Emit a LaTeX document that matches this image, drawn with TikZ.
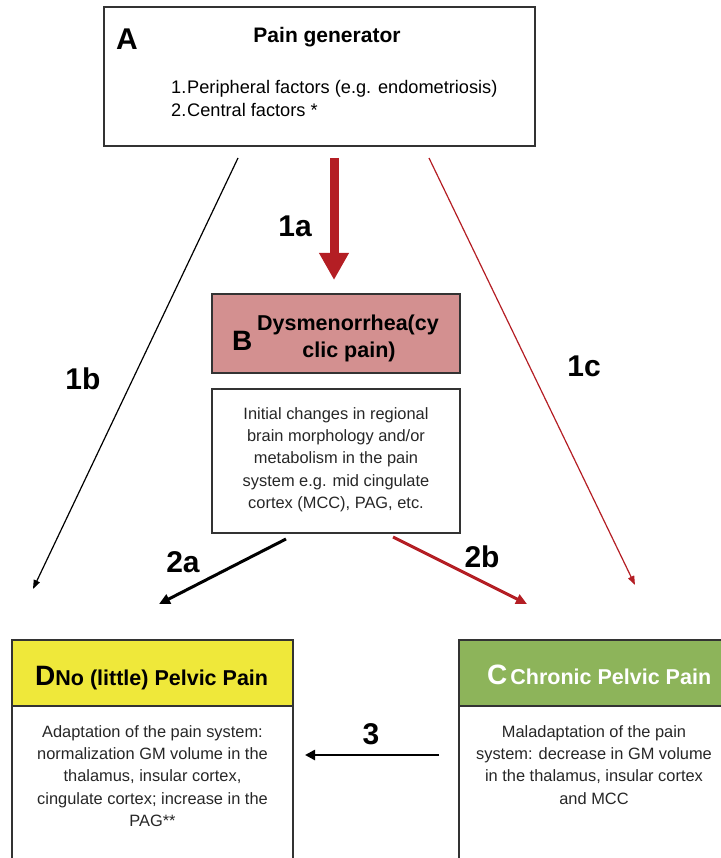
\documentclass[tikz,border=0pt]{standalone}
\usepackage{fontspec}
\setmainfont{Liberation Sans}
\usetikzlibrary{arrows.meta}
\definecolor{arrred}{HTML}{B41E24}
\definecolor{bfill}{HTML}{D39090}
\definecolor{dyellow}{HTML}{EFE83A}
\definecolor{cgreen}{HTML}{8DB45A}
\definecolor{edge}{HTML}{333333}
\newcommand{\fsz}[1]{\fontsize{#1}{#1}\selectfont}
\begin{document}
\begin{tikzpicture}[x=1pt,y=-1pt,
  box/.style={draw=edge, line width=1.4pt, inner sep=0pt, outer sep=0pt, anchor=north west},
  lbl/.style={font=\fsz{30}\bfseries, inner sep=0pt},
  bodytxt/.style={font=\fontsize{16.4}{22.4}\selectfont, align=center, inner sep=0pt, anchor=north, text=black!85},
  thinarrow/.style={line width=1.2pt, -{Triangle[length=9pt,width=6.5pt]}},
  medarrow/.style={line width=3pt, -{Triangle[length=11pt,width=10pt]}}]
\useasboundingbox (0,0) rectangle (720,858);

% Box A
\node[box, minimum width=431pt, minimum height=139pt] (A) at (104,7) {};
\node[font=\fsz{30}\bfseries, inner sep=0pt, anchor=base west] (Alet) at (116,50) {A};
\node[font=\fsz{21}\bfseries, inner sep=0pt, anchor=base] (Atitle) at (327,43) {Pain generator};
\node[font=\fsz{18.2}, inner sep=0pt, anchor=base west] (Aone) at (171,94) {\makebox[16pt][l]{1.}Peripheral factors (e.g. endometriosis)};
\node[font=\fsz{18.2}, inner sep=0pt, anchor=base west] (Atwo) at (171,117) {\makebox[16pt][l]{2.}Central factors *};

% Box B
\node[box, fill=bfill, minimum width=248pt, minimum height=79pt] (Bhead) at (212,294) {};
\node[font=\fsz{28}\bfseries, inner sep=0pt, anchor=base west] (Blet) at (232,350) {B};
\node[font=\fsz{21.5}\bfseries, inner sep=0pt, anchor=base west] (Bt1) at (257,330) {Dysmenorrhea(cy};
\node[font=\fsz{21.5}\bfseries, inner sep=0pt, anchor=base] (Bt2) at (349,357) {clic pain)};
\node[box, minimum width=248pt, minimum height=144pt] (Bbody) at (212,389) {};
\node[bodytxt] (Btxt) at (336,407) {Initial changes in regional\\brain morphology and/or\\metabolism in the pain\\system e.g. mid cingulate\\cortex (MCC), PAG, etc.};

% Box D
\node[box, fill=dyellow, minimum width=281pt, minimum height=66pt] (Dhead) at (12,640) {};
\node[box, minimum width=281pt, minimum height=200pt] (Dbody) at (12,706) {};
\node[inner sep=0pt, anchor=base west] (Dtitle) at (35,685) {{\fsz{28}\bfseries D}{\fsz{21.5}\bfseries No (little) Pelvic Pain}};
\node[bodytxt] (Dtxt) at (152.5,725) {Adaptation of the pain system:\\normalization GM volume in the\\thalamus, insular cortex,\\cingulate cortex; increase in the\\PAG**};

% Box C
\node[box, fill=cgreen, minimum width=272pt, minimum height=66pt] (Chead) at (459,640) {};
\node[box, minimum width=272pt, minimum height=200pt] (Cbody) at (459,706) {};
\node[inner sep=0pt, anchor=base west, text=white] (Ctitle) at (487,684) {{\fsz{28}\bfseries C}\hspace{3pt}{\fsz{21.5}\bfseries Chronic Pelvic Pain}};
\node[bodytxt] (Ctxt) at (594,725) {Maladaptation of the pain\\system: decrease in GM volume\\in the thalamus, insular cortex\\and MCC};

% arrow endpoints
\coordinate (s1a) at (334,158);
\coordinate (e1a) at (334,280);
\coordinate (s1b) at (238,158);
\coordinate (e1b) at (33,589);
\coordinate (s1c) at (429,158);
\coordinate (e1c) at (635,585);
\coordinate (s2a) at (286,539);
\coordinate (e2a) at (159,604);
\coordinate (s2b) at (393,537);
\coordinate (e2b) at (527,604);
\coordinate (s3) at (439,755);
\coordinate (e3) at (305,755);

\draw[arrred, line width=9pt, -{Triangle[length=27pt,width=28pt]}] (s1a) -- (e1a);
\draw[thinarrow, black] (s1b) -- (e1b);
\draw[thinarrow, arrred] (s1c) -- (e1c);
\draw[medarrow, black] (s2a) -- (e2a);
\draw[medarrow, arrred] (s2b) -- (e2b);
\draw[line width=2.6pt, black, -{Triangle[length=10pt,width=10pt]}] (s3) -- (e3);

% labels
\node[lbl] (l1a) at (295,226) {1a};
\node[lbl] (l1b) at (83,379) {1b};
\node[lbl] (l1c) at (584,366) {1c};
\node[lbl] (l2a) at (183,562) {2a};
\node[lbl] (l2b) at (482,557) {2b};
\node[lbl] (l3) at (371,734) {3};
\end{tikzpicture}
\end{document}
